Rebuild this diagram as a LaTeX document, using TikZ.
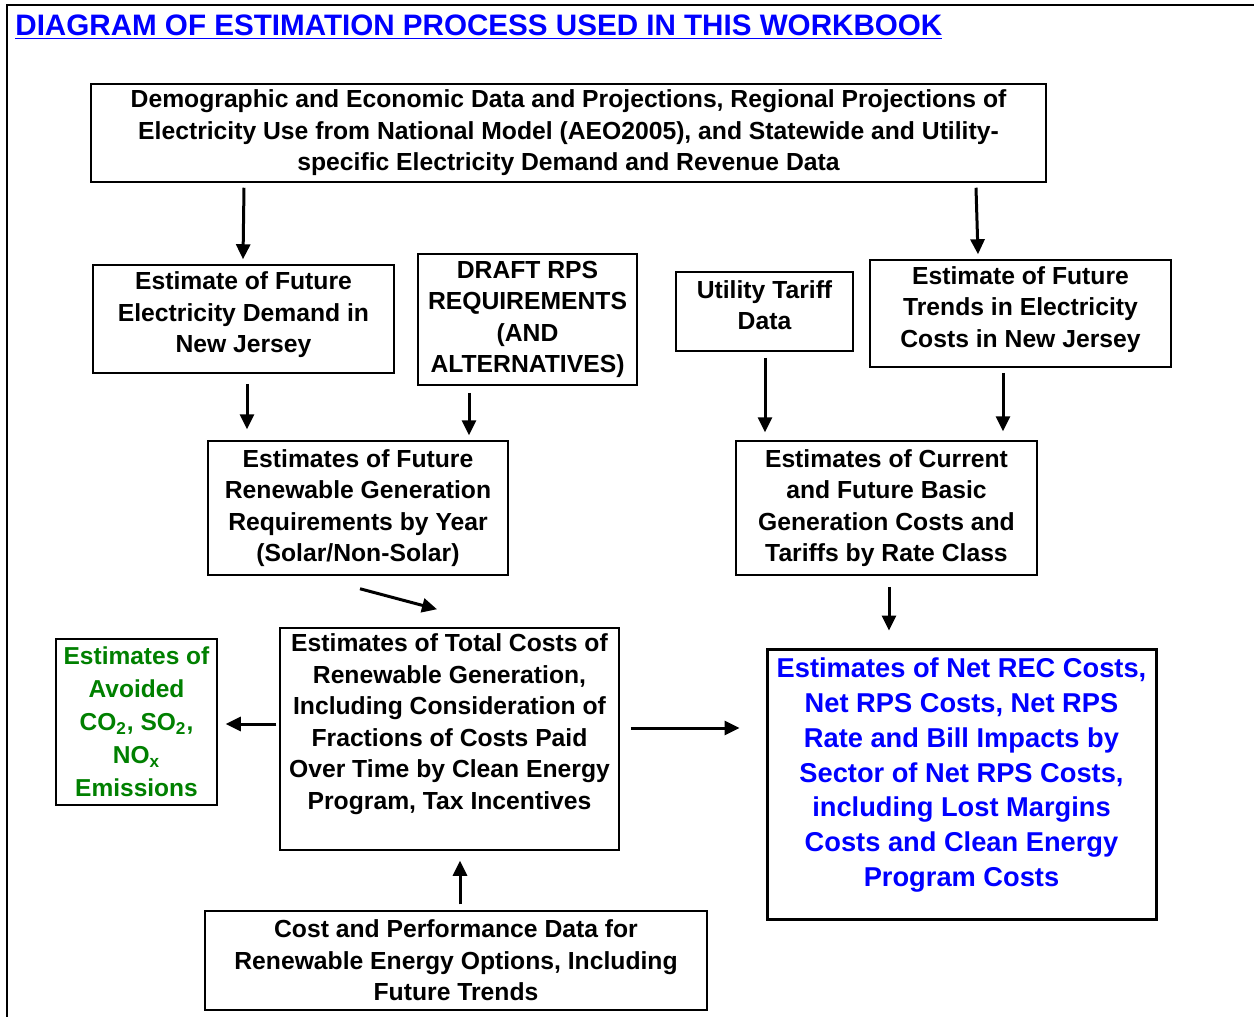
\documentclass[tikz,border=0pt]{standalone}
\usepackage{fontspec}
\setmainfont{Liberation Sans}
\usetikzlibrary{arrows.meta,calc}
\definecolor{tgreen}{RGB}{0,128,0}
\definecolor{tblue}{RGB}{0,0,255}
\begin{document}
\begin{tikzpicture}[x=0.5pt,y=-0.5pt,
  bfont/.style={font=\bfseries\fontsize{12.35}{15.75}\selectfont},
  box/.style={draw, line width=0.75pt, align=center, inner sep=0pt, bfont},
  sz/.style 2 args={minimum width=#1*0.5pt, minimum height=#2*0.5pt},
  txt/.style={align=center, inner sep=0pt, bfont},
  arr/.style={line width=1.5pt, -{Triangle[length=7.5pt,width=7pt]}},
]
\useasboundingbox (0,0) rectangle (1254,1017);
\draw[line width=1.2pt] (7,1017) -- (7,5) -- (1254,5);

\node[anchor=base west, text=tblue, inner sep=0pt,
  font=\bfseries\fontsize{14.8}{17}\selectfont] (title) at (15,35)
  {\underline{DIAGRAM OF ESTIMATION PROCESS USED IN THIS WORKBOOK}};

\node[box, sz={955}{98}] (top) at (568.5,133)
  {Demographic and Economic Data and Projections, Regional Projections of\\
   Electricity Use from National Model (AEO2005), and Statewide and Utility-\\
   specific Electricity Demand and Revenue Data};

\node[box, sz={301}{108}] (dem) at (243.5,319) {};
\node[txt] (demtxt) at ($(dem.center)+(0,-4)$)
  {Estimate of Future\\Electricity Demand in\\New Jersey};
\node[box, sz={219}{131}] (draft) at (527.5,319.5)
  {DRAFT RPS\\REQUIREMENTS\\(AND\\ALTERNATIVES)};
\node[box, sz={177}{79}] (util) at (764.5,311.5) {};
\node[txt] (utiltxt) at ($(util.center)+(0,-6.5)$)
  {Utility Tariff\\Data};
\node[box, sz={301}{107}] (trends) at (1020.5,313.5) {};
\node[txt] (trendstxt) at ($(trends.center)+(0,-4)$)
  {Estimate of Future\\Trends in Electricity\\Costs in New Jersey};

\node[box, sz={300}{134}] (renew) at (358,508)
  {Estimates of Future\\Renewable Generation\\Requirements by Year\\(Solar/Non-Solar)};
\node[box, sz={301}{134}] (basic) at (886.5,508)
  {Estimates of Current\\and Future Basic\\Generation Costs and\\Tariffs by Rate Class};

\node[box, sz={161}{166}, text=tgreen,
  font=\bfseries\fontsize{12.25}{16.5}\selectfont] (green) at (136.5,722)
  {Estimates of\\Avoided\\CO\textsubscript{2}, SO\textsubscript{2},\\NO\textsubscript{x}\\Emissions};

\node[box, sz={339}{222}] (total) at (449.5,739) {};
\node[txt, anchor=north] (totaltxt)
  at ($(total.north)+(0,6)$)
  {Estimates of Total Costs of\\Renewable Generation,\\Including Consideration of\\
   Fractions of Costs Paid\\Over Time by Clean Energy\\Program, Tax Incentives};

\node[box, sz={389}{270}, line width=1.5pt] (blue) at (961.5,784) {};
\node[txt, anchor=north, text=tblue, font=\bfseries\fontsize{13.63}{17.4}\selectfont] (bluetxt)
  at ($(blue.north)+(0,10)$)
  {Estimates of Net REC Costs,\\Net RPS Costs, Net RPS\\Rate and Bill Impacts by\\
   Sector of Net RPS Costs,\\including Lost Margins\\Costs and Clean Energy\\Program Costs};

\node[box, sz={502}{99}] (bottom) at (456,960.5)
  {Cost and Performance Data for\\Renewable Energy Options, Including\\Future Trends};

% arrows
\draw[arr] ($(top.south -| dem.north)+(0.5,5)$) -- ($(dem.north)+(-0.5,-5)$);
\draw[arr] ($(top.south -| trends.north)+(-44.5,5)$) -- ($(trends.north)+(-42.5,-5)$);
\draw[arr] ($(dem.south)+(3.5,10)$) -- ($(dem.south |- renew.north)+(3.5,-11)$);
\draw[arr] ($(draft.south -| renew.north)+(111,7)$) -- ($(renew.north)+(111,-5)$);
\draw[arr] ($(util.south)+(0.5,6)$) -- ($(util.south |- basic.north)+(0.5,-8)$);
\draw[arr] ($(trends.south)+(-17.5,5)$) -- ($(trends.south |- basic.north)+(-17.5,-9)$);
\draw[arr] ($(renew.south)+(2,13)$) -- ($(total.north)+(-12.5,-18)$);
\draw[arr] ($(basic.south)+(2.5,11)$) -- ($(blue.north)+(-72.5,-17)$);
\draw[arr] ($(total.west)+(-3,-15)$) -- ($(green.east)+(8,2)$);
\draw[arr] ($(total.east)+(11,-11)$) -- ($(blue.west)+(-26,-56)$);
\draw[arr] ($(bottom.north)+(4,-6)$) -- ($(total.south)+(10.5,10)$);
\end{tikzpicture}
\end{document}
